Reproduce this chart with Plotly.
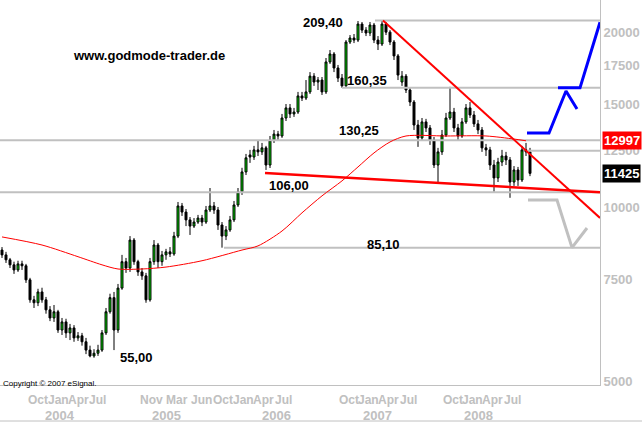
import numpy as np
import plotly.graph_objects as go

# ---------------- data (weekly bars, price in index points) ----------------
open_ = [8430, 8270, 8110, 7950, 7790, 7980, 7920, 7490, 6920, 6840,
         7140, 6920, 6650, 6440, 6600, 6140, 6340, 6070, 6190, 5950,
         6000, 5860, 5670, 5540, 5600, 5670, 6070, 6600, 6980, 6140,
         7250, 8050, 7850, 8770, 8050, 7730, 7610, 6920, 8050, 8600,
         8050, 8270, 8370, 8300, 8910, 10040, 9800, 9500, 9270, 9420,
         9570, 9420, 9880, 10040, 9880, 9310, 8910, 9130, 9500, 10080,
         10620, 11490, 12290, 12190, 12540, 12440, 12640, 11810, 13040, 13350,
         13250, 14230, 14810, 14460, 14570, 15530, 15400, 15780, 16800, 16410,
         16540, 15780, 17770, 18340, 17350, 16670, 16160, 19230, 19540, 19380,
         20650, 20160, 19930, 20570, 19380, 19080, 20650, 20000, 19230, 18200,
         16410, 16800, 15900, 15160, 13840, 13150, 14010, 13680, 13040, 11810,
         12440, 13300, 14230, 14570, 13680, 13250, 14010, 14810, 14400, 13900,
         13570, 12640, 12540, 11810, 11220, 11950, 12240, 12050, 11040, 11580,
         11130, 12540, 12440]
close = [8270, 8110, 7950, 7790, 7980, 7920, 7490, 6920, 6840, 7140,
         6920, 6650, 6440, 6600, 6140, 6340, 6070, 6190, 5950, 6000,
         5860, 5670, 5540, 5600, 5670, 6070, 6600, 6980, 6140, 7250,
         8050, 7850, 8770, 8050, 7730, 7610, 6920, 8050, 8600, 8050,
         8270, 8370, 8300, 8910, 10040, 9800, 9500, 9270, 9420, 9570,
         9420, 9880, 10040, 9880, 9310, 8910, 9130, 9500, 10080, 10620,
         11490, 12150, 12190, 12540, 12440, 12640, 11810, 13040, 13350, 13250,
         14230, 14810, 14460, 14570, 15530, 15400, 15780, 16800, 16410, 16540,
         15780, 17770, 18340, 17350, 16670, 16160, 19230, 19540, 19380, 20650,
         20160, 19930, 20570, 19380, 19080, 20650, 20000, 19230, 18200, 16870,
         16800, 15900, 15160, 13840, 13150, 14010, 13680, 13040, 11810, 12440,
         13300, 14230, 14570, 13680, 13250, 14010, 14810, 14400, 13900, 13570,
         12640, 12540, 11810, 11220, 11950, 12240, 12050, 11040, 11580, 11130,
         12540, 12440, 11425]
high = [8530, 8370, 8170, 8050, 8080, 8080, 7980, 7550, 7030, 7230,
        7260, 7000, 6750, 6780, 6650, 6440, 6420, 6290, 6260, 6090,
        6070, 5950, 5770, 5690, 5790, 6140, 6700, 7090, 7140, 7370,
        8270, 8170, 8910, 8840, 8110, 7850, 7700, 8170, 8770, 8670,
        8400, 8470, 8530, 9060, 10200, 10160, 9920, 9610, 9570, 9690,
        9690, 10040, 10780, 10200, 10000, 9420, 9270, 9650, 10240, 10780,
        11680, 12340, 12540, 12740, 13000, 12890, 12740, 13250, 13570, 13520,
        14460, 15040, 15040, 14810, 15780, 15780, 16540, 17070, 17000, 16740,
        16740, 18050, 18630, 18480, 17560, 16940, 19380, 19770, 19850, 20900,
        20820, 20400, 20820, 20740, 19690, 20940, 20820, 20160, 19380, 18340,
        17140, 16940, 16030, 15280, 14120, 14230, 14180, 13840, 13200, 12640,
        13570, 14520, 16100, 14810, 13900, 14230, 15040, 15160, 14630, 14120,
        13730, 12840, 12690, 12050, 12150, 12540, 12440, 12190, 11760, 11720,
        12740, 12890, 12640]
low = [8170, 8010, 7850, 7670, 7730, 7790, 7400, 6840, 6700, 6750,
       6840, 6550, 6360, 6340, 6070, 6020, 5950, 5900, 5860, 5880,
       5770, 5580, 5510, 5500, 5540, 5630, 6020, 6550, 5670, 6070,
       7200, 7700, 7730, 7950, 7610, 7490, 6840, 6870, 7950, 7850,
       7920, 8110, 8200, 8240, 8840, 9650, 9270, 8950, 9200, 9350,
       9270, 9350, 9800, 9730, 9130, 8510, 8770, 9060, 9420, 10000,
       10490, 11350, 11910, 12050, 12240, 12290, 11580, 11670, 12890, 13040,
       13150, 14060, 14230, 14290, 14460, 15220, 15280, 15650, 16160, 15900,
       15590, 15650, 17630, 17070, 16410, 16035, 16100, 19080, 19150, 19230,
       19930, 19690, 19690, 19150, 18630, 18930, 19770, 19000, 17910, 16540,
       16160, 15710, 14920, 13570, 12690, 13040, 13460, 12790, 11670, 11040,
       12290, 13200, 14120, 13460, 13040, 13150, 13900, 14230, 13730, 13350,
       12440, 12240, 11580, 10620, 11040, 11760, 11810, 10370, 10870, 10870,
       11040, 12240, 11300]
bars = list(range(len(close)))

# 200-period moving average (sampled)
ma_idx = [0, 10, 19, 25, 29, 35, 41, 50, 60, 64, 70, 75, 80, 85, 89, 93, 97, 101, 111, 121, 128, 131]
ma_val = [8880, 8600, 8210, 7950, 7820, 7820, 7880, 8080, 8430, 8570, 9090, 9770,
          10450, 11090, 11720, 12390, 12940, 13250, 13250, 13250, 13090, 13000]

# horizontal levels
level_val = [20940, 16035, 13025, 12500, 10600, 8510]
level_from = [93.25, 85.0, -0.5, 131.25, -0.5, 55.5]
level_text = ["209,40", "160,35", "130,25", None, "106,00", "85,10"]

# trend lines
down_x, down_y = [95.25, 149.5], [20940, 9574]
supp_x, supp_y = [65.75, 149.5], [11440, 10600]

# projections
blue1_x, blue1_y = [131.25, 136.75, 141.0, 143.75], [13410, 13410, 15840, 14750]
blue2_x, blue2_y = [139.0, 144.5, 149.5], [16035, 16035, 20800]
grey_x, grey_y = [131.5, 138.75, 142.5, 146.25], [10280, 10280, 8510, 9200]

# axis labels
y_ticks = [5000, 7500, 10000, 12500, 15000, 17500, 20000, 22500]
month_labels = ["Oct", "Jan", "Apr", "Jul", "Nov", "Mar", "Jun", "Oct", "Jan", "Apr", "Jul",
                "Oct", "Jan", "Apr", "Jul", "Oct", "Jan", "Apr", "Jul"]
month_pos = [9.0, 14.0, 19.0, 23.75, 37.25, 43.75, 49.75, 55.25, 60.25, 65.25, 70.25,
             86.75, 91.5, 96.5, 101.5, 112.75, 117.5, 122.5, 127.5]
year_labels = ["2004", "2005", "2006", "2007", "2008"]
year_pos = [14.5, 41.0, 68.5, 93.75, 119.0]

FONT = "Arial, 'Liberation Sans', sans-serif"
GREY = "#c0c0c0"

fig = go.Figure()

for v, x0 in zip(level_val, level_from):
    fig.add_trace(go.Scatter(x=[x0, 149.5], y=[v, v], mode="lines",
                             line=dict(color=GREY, width=2), hoverinfo="skip", showlegend=False))

fig.add_trace(go.Scatter(x=ma_idx, y=ma_val, mode="lines",
                         line=dict(color="#ff0000", width=1, shape="spline", smoothing=0.8),
                         hoverinfo="skip", showlegend=False))

fig.add_trace(go.Candlestick(
    x=bars, open=open_, high=high, low=low, close=close,
    increasing=dict(line=dict(color="black", width=1), fillcolor="#00dd00"),
    decreasing=dict(line=dict(color="black", width=1), fillcolor="black"),
    whiskerwidth=0, hoverinfo="skip", showlegend=False))

fig.add_trace(go.Scatter(x=down_x, y=down_y, mode="lines",
                         line=dict(color="#ff0000", width=2), hoverinfo="skip", showlegend=False))
fig.add_trace(go.Scatter(x=supp_x, y=supp_y, mode="lines",
                         line=dict(color="#ff0000", width=2.5), hoverinfo="skip", showlegend=False))
fig.add_trace(go.Scatter(x=blue1_x, y=blue1_y, mode="lines",
                         line=dict(color="#0000ff", width=3), hoverinfo="skip", showlegend=False))
fig.add_trace(go.Scatter(x=blue2_x, y=blue2_y, mode="lines",
                         line=dict(color="#0000ff", width=3), hoverinfo="skip", showlegend=False))
fig.add_trace(go.Scatter(x=grey_x, y=grey_y, mode="lines",
                         line=dict(color=GREY, width=3), hoverinfo="skip", showlegend=False))

ann = []
# level value labels
lbl_pos = {"209,40": (80.25, -2), "160,35": (91.25, 7), "130,25": (89.25, 10),
           "106,00": (71.75, 7), "85,10": (95.25, 3)}
for v, t in zip(level_val, level_text):
    if t is None:
        continue
    xp, ys = lbl_pos[t]
    ann.append(dict(x=xp, y=np.log10(v), xref="x", yref="y", text=t, showarrow=False,
                    xanchor="center", yanchor="middle", yshift=ys,
                    font=dict(family=FONT, size=13, color="black", weight="bold")))
ann.append(dict(x=33.5, y=np.log10(5500), xref="x", yref="y", text="55,00", showarrow=False,
                xanchor="center", yanchor="middle",
                font=dict(family=FONT, size=13, color="black", weight="bold")))

ann.append(dict(x=149 / 600, y=(385 - 55) / 385, xref="paper", yref="paper",
                xanchor="center", yanchor="middle",
                text="www.godmode-trader.de", showarrow=False,
                font=dict(family=FONT, size=13, color="black", weight="bold")))
ann.append(dict(x=0.002, y=(385 - 383) / 385, xref="paper", yref="paper",
                xanchor="left", yanchor="middle",
                text="Copyright © 2007 eSignal.", showarrow=False,
                font=dict(family=FONT, size=8, color="black")))

# last-value boxes
ann.append(dict(x=1, y=np.log10(12997), xref="paper", yref="y", xanchor="left", xshift=2,
                yanchor="middle", text="12997", showarrow=False, bgcolor="#ff0000", borderpad=1,
                font=dict(family=FONT, size=13, color="white", weight="bold")))
ann.append(dict(x=1, y=np.log10(11425), xref="paper", yref="y", xanchor="left", xshift=2,
                yanchor="middle", text="11425", showarrow=False, bgcolor="black", borderpad=1,
                font=dict(family=FONT, size=13, color="white", weight="bold")))

for t, p in zip(month_labels, month_pos):
    ann.append(dict(x=p, y=(385 - 400) / 385, xref="x", yref="paper", text=t, showarrow=False,
                    xanchor="center", yanchor="middle",
                    font=dict(family=FONT, size=12, color=GREY, weight="bold")))
for t, p in zip(year_labels, year_pos):
    ann.append(dict(x=p, y=(385 - 415) / 385, xref="x", yref="paper", text=t, showarrow=False,
                    xanchor="center", yanchor="middle",
                    font=dict(family=FONT, size=13, color=GREY, weight="bold")))

fig.update_layout(
    template="none",
    width=642, height=423, autosize=False,
    margin=dict(l=0, r=42, t=0, b=38, pad=0),
    paper_bgcolor="white", plot_bgcolor="white",
    showlegend=False, hovermode=False,
    annotations=ann,
    shapes=[dict(type="line", xref="paper", yref="paper", x0=0, x1=642 / 600,
                 y0=(385 - 421) / 385, y1=(385 - 421) / 385, line=dict(color=GREY, width=1))],
    xaxis=dict(range=[-0.5, 149.5], showgrid=False, zeroline=False, showticklabels=False,
               ticks="", showline=True, linecolor=GREY, linewidth=1,
               rangeslider=dict(visible=False), automargin=False, fixedrange=True),
    yaxis=dict(type="log", range=[np.log10(4937), np.log10(22717)], side="right",
               tickvals=y_ticks, ticktext=[str(t) for t in y_ticks], ticks="",
               tickfont=dict(family=FONT, size=13, color=GREY, weight="bold"),
               showgrid=False, zeroline=False, showline=True, linecolor=GREY, linewidth=1,
               automargin=False, fixedrange=True),
)

fig.write_html("out.html", config={"displayModeBar": False},
               post_script="document.body.style.margin='0px';document.body.style.overflow='hidden';")
